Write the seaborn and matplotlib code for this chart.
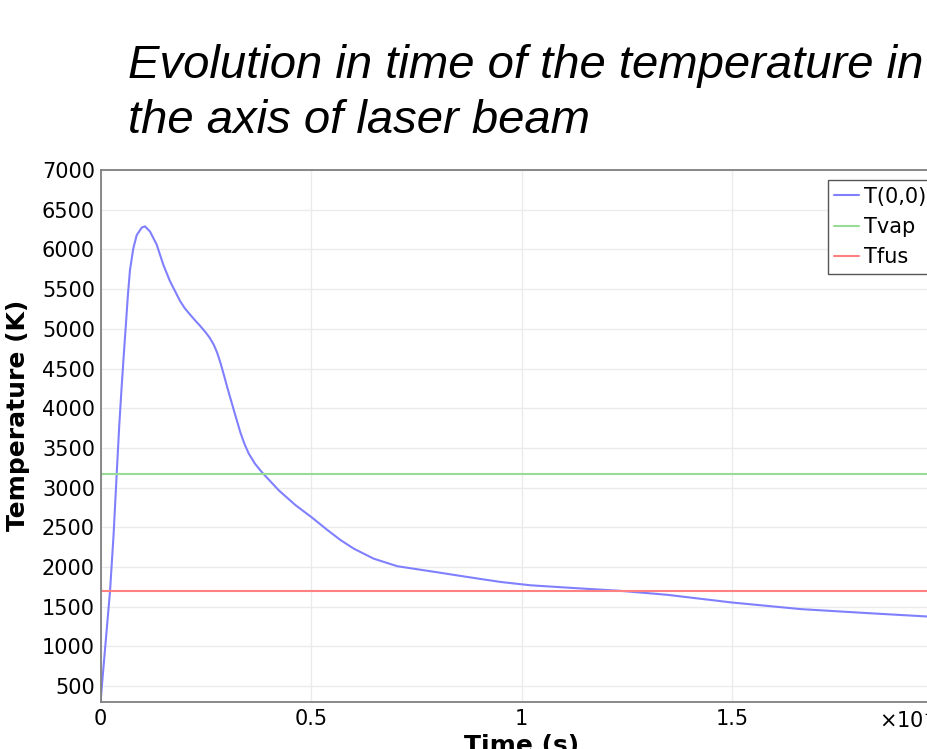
import numpy as np
import pandas as pd
import matplotlib
matplotlib.use("Agg")
import matplotlib.pyplot as plt
from matplotlib import font_manager
import seaborn as sns

# time in units of 1e-7 s, temperature in K
time = [0.0, 0.011, 0.0226, 0.031, 0.0385, 0.0445, 0.05, 0.055, 0.06, 0.065,
        0.070, 0.078, 0.086, 0.098, 0.1057, 0.1176, 0.1335, 0.149, 0.165, 0.189,
        0.2, 0.2126, 0.2257, 0.237, 0.249, 0.259, 0.269, 0.277, 0.285, 0.293,
        0.301, 0.317, 0.3325, 0.342, 0.352, 0.367, 0.384, 0.4236, 0.463, 0.503,
        0.538, 0.57, 0.602, 0.649, 0.705, 0.792, 0.871, 0.950, 1.021, 1.11,
        1.235, 1.346, 1.5, 1.663, 1.82, 1.963, 2.0]
temp = [300, 980, 1694, 2400, 3176, 3780, 4250, 4650, 5030, 5420,
        5740, 6015, 6180, 6275, 6290, 6225, 6060, 5810, 5600, 5350,
        5260, 5180, 5100, 5035, 4960, 4890, 4800, 4700, 4570, 4420,
        4265, 3970, 3690, 3550, 3430, 3300, 3190, 2965, 2780, 2620,
        2470, 2340, 2230, 2105, 2010, 1940, 1875, 1812, 1770, 1740,
        1700, 1650, 1553, 1470, 1420, 1377, 1365]
t_vap = 3176
t_fus = 1694

series = ["T(0,0)", "Tvap", "Tfus"]
colors = ["#8080ff", "#96dc96", "#ff8080"]

df = pd.concat([
    pd.DataFrame({"Time": time, "Temp": temp, "Series": series[0]}),
    pd.DataFrame({"Time": [0, 2], "Temp": [t_vap, t_vap], "Series": series[1]}),
    pd.DataFrame({"Time": [0, 2], "Temp": [t_fus, t_fus], "Series": series[2]}),
])

sns.set_style("white")
plt.rcParams["font.family"] = ["DejaVu Sans"]
plt.rcParams["text.color"] = "black"
plt.rcParams["xtick.color"] = "black"
plt.rcParams["ytick.color"] = "black"
plt.rcParams["axes.labelcolor"] = "black"

installed = {f.name for f in font_manager.fontManager.ttflist}
if "Liberation Sans Narrow" in installed:
    title_font, title_size = "Liberation Sans Narrow", 40
else:
    title_font, title_size = "Liberation Sans", 34

fig = plt.figure(figsize=(9.27, 7.49), dpi=100)
ax = fig.add_axes([100.5 / 927, 1 - 702 / 749, 842 / 927, 532 / 749])

sns.lineplot(data=df, x="Time", y="Temp", hue="Series", palette=dict(zip(series, colors)),
             estimator=None, sort=False, linewidth=1.5, ax=ax)

ax.set_xlim(0, 2)
ax.set_ylim(300, 7000)
ax.set_xticks([0, 0.5, 1, 1.5])
ax.set_xticklabels(["0", "0.5", "1", "1.5"])
ax.set_yticks(range(500, 7001, 500))
ax.grid(True, color="#ebebeb", linewidth=1)
ax.set_axisbelow(True)
for s in ax.spines.values():
    s.set_color("#808080")
    s.set_linewidth(1.3)
ax.tick_params(axis="x", direction="in", length=5, color="#808080", labelsize=15, pad=5)
ax.tick_params(axis="y", direction="out", length=3, color="#808080", labelsize=15, pad=1)
ax.set_xlabel("Time (s)", fontsize=18, fontweight="bold", labelpad=4)
ax.set_ylabel("Temperature (K)", fontsize=18, fontweight="bold")
ax.yaxis.set_label_coords(-0.0837, 0.539)

fig.text(879 / 927, 1 - 720 / 749, r"$\times$10$^{-7}$", fontsize=15, va="center", ha="left")

leg = ax.legend(loc="upper right", bbox_to_anchor=(1.0, 1.0), fontsize=15, frameon=True,
                fancybox=False, handlelength=1.2, handletextpad=0.2, labelspacing=0.5,
                borderpad=0.3, borderaxespad=0.5)
leg.get_frame().set_edgecolor("#555555")
leg.get_frame().set_linewidth(1.0)
leg.get_frame().set_alpha(1)

fig.text(128 / 927, 1 - 78 / 749, "Evolution in time of the temperature in",
         fontsize=title_size, style="italic", family=title_font, va="baseline", color="black")
fig.text(128 / 927, 1 - 133 / 749, "the axis of laser beam",
         fontsize=title_size, style="italic", family=title_font, va="baseline", color="black")

fig.savefig("out.png", dpi=100)
